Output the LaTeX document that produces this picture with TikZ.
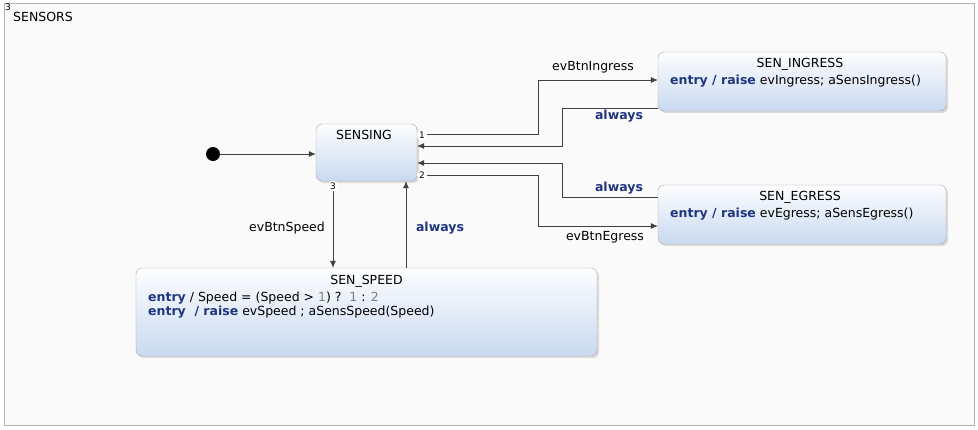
\documentclass[tikz,border=0pt]{standalone}
\usepackage{fontspec}
\setmainfont{DejaVu Sans}
\usetikzlibrary{arrows.meta,shadows}
\definecolor{kwblue}{HTML}{1E3580}
\definecolor{numgray}{HTML}{808080}
\definecolor{edgegray}{HTML}{404040}
\definecolor{boxtop}{HTML}{FDFEFF}
\definecolor{boxbot}{HTML}{C9D9F0}
\newcommand{\kw}[1]{\textcolor{kwblue}{\textbf{#1}}}

\begin{document}
\begin{tikzpicture}[x=1pt,y=-1pt,font=\fontsize{12.5}{14}\selectfont]
	\tikzstyle{state}=[draw=black!35,rounded corners=6pt,top color=boxtop,bottom color=boxbot,
		drop shadow={opacity=0.25,shadow xshift=2pt,shadow yshift=-2pt},inner sep=0pt]
	\tikzstyle{trans}=[draw=edgegray,-{Latex[length=7pt,width=6pt]},line width=0.7pt]
	\tikzstyle{port}=[circle,fill=white,inner sep=0.6pt,font=\fontsize{9}{10}\selectfont]
	\tikzstyle{guard}=[text=kwblue,font=\fontsize{12.5}{14}\selectfont\bfseries]

	\useasboundingbox (0,0) rectangle (978,429);
	\fill[white] (0,0) rectangle (978,429);
	\draw[draw=black!30,fill=black!2] (4,3) rectangle (974,425);
	\node[anchor=north west,inner sep=0pt,font=\fontsize{9}{10}\selectfont] (sup) at (5,4) {3};
	\node[anchor=west,inner sep=0pt] (region) at (13,17) {SENSORS};

	% states
	\node[state,minimum width=101pt,minimum height=57pt] (sensing) at (366.5,152.5) {};
	\node[state,minimum width=288pt,minimum height=59pt] (ingress) at (802,81.5) {};
	\node[state,minimum width=288pt,minimum height=59pt] (egress) at (802,214.5) {};
	\node[state,minimum width=461pt,minimum height=88pt] (speed) at (366.5,312) {};

	\node (sensing-t) at (364,135) {SENSING};
	\node (ingress-t) at (800,64) {SEN\_INGRESS};
	\node[anchor=west,inner sep=0pt] (ingress-b) at (670,81) {\kw{entry / raise} evIngress; aSensIngress()};
	\node (egress-t) at (800,197) {SEN\_EGRESS};
	\node[anchor=west,inner sep=0pt] (egress-b) at (670,214) {\kw{entry / raise} evEgress; aSensEgress()};
	\node (speed-t) at (366.5,281) {SEN\_SPEED};
	\node[anchor=west,inner sep=0pt] (speed-b1) at (148,298)
		{\kw{entry} / Speed = (Speed > \textcolor{numgray}{1}) ?\ \ \textcolor{numgray}{1} : \textcolor{numgray}{2}};
	\node[anchor=west,inner sep=0pt] (speed-b2) at (148,312)
		{\kw{entry\ \ / raise} evSpeed ; aSensSpeed(Speed)};

	% initial state
	\node[circle,fill=black,minimum size=14pt,inner sep=0pt] (init) at (213,154) {};
	\draw[trans] (init) -- (sensing.west |- init);

	% transitions
	\draw[trans] (sensing.east |- 0,134) -| (538,80) -- (ingress.west |- 0,80);
	\draw[trans] (ingress.west |- 0,108) -| (562,146) -- (sensing.east |- 0,146);
	\draw[trans] (egress.west |- 0,197) -| (562,163) -- (sensing.east |- 0,163);
	\draw[trans] (sensing.east |- 0,175) -| (538,226) -- (egress.west |- 0,226);
	\draw[trans] (sensing.south -| 333,0) -- (speed.north -| 333,0);
	\draw[trans] (speed.north -| 406,0) -- (sensing.south -| 406,0);

	\node (l-ing) at (593,67) {evBtnIngress};
	\node[guard] (l-ingback) at (619,116) {always};
	\node[guard] (l-egback) at (619,188) {always};
	\node (l-eg) at (605,237) {evBtnEgress};
	\node (l-sp) at (287,228) {evBtnSpeed};
	\node[guard] (l-spback) at (440,228) {always};

	\foreach \n/\x/\y in {1/422/135, 2/422/175, 3/333/186}
	\node[port] (P-\n) at (\x,\y) {\n};
\end{tikzpicture}
\end{document}
